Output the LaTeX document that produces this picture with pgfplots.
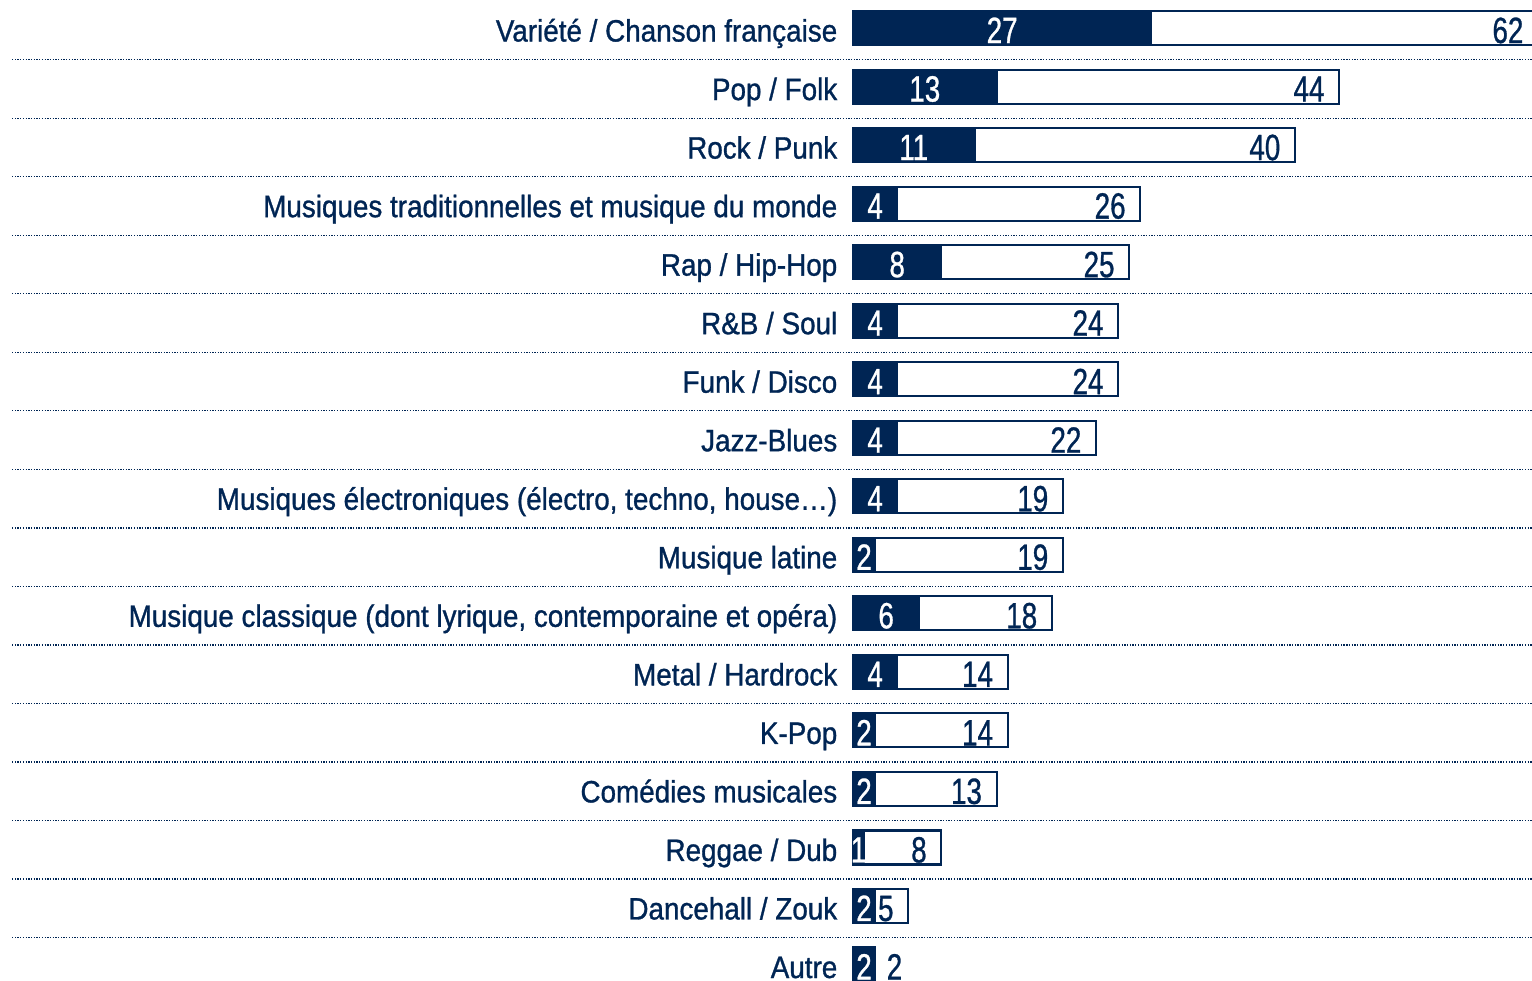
\documentclass[border=0pt]{standalone}
\usepackage{fontspec}
\setmainfont{Liberation Sans}[FakeStretch=0.9, FakeBold=1]
\newfontfamily\numfont{Liberation Sans}[FakeStretch=0.76, FakeBold=0.8]
\usepackage{pgfplots}
\usepackage{pgfplotstable}
\pgfplotsset{compat=1.18}
\definecolor{navy}{RGB}{0,37,84}

\pgfplotstableread{
idx dark total
0 27 62
1 13 44
2 11 40
3 4 26
4 8 25
5 4 24
6 4 24
7 4 22
8 4 19
9 2 19
10 6 18
11 4 14
12 2 14
13 2 13
14 1 8
15 2 5
16 2 2
}\datatable

\begin{document}
\begin{tikzpicture}
\path[use as bounding box] (0,0) rectangle (15.32,9.80);
\begin{axis}[
  at={(8.53cm,0cm)}, anchor=south west,
  x=0.1105cm, y=0.5853cm, y dir=reverse,
  xmin=0, xmax=61.45, ymin=-0.478, ymax=16.265,
  clip=false,
  /pgf/number format/assume math mode=true,
  axis line style={draw=none},
  tick style={draw=none},
  major tick length=0pt,
  xtick=\empty,
  ytick={0,...,16},
  yticklabels={
    {Variété / Chanson française},
    {Pop / Folk},
    {Rock / Punk},
    {Musiques traditionnelles et musique du monde},
    {Rap / Hip-Hop},
    {R\&B / Soul},
    {Funk / Disco},
    {Jazz-Blues},
    {Musiques électroniques (électro, techno, house…)},
    {Musique latine},
    {Musique classique (dont lyrique, contemporaine et opéra)},
    {Metal / Hardrock},
    {K-Pop},
    {Comédies musicales},
    {Reggae / Dub},
    {Dancehall / Zouk},
    {Autre}},
  yticklabel style={anchor=base east, inner sep=0pt, xshift=-0.15cm, yshift=-0.135cm,
    text=navy, font=\fontsize{8.8}{10}\selectfont},
]
\pgfplotsinvokeforeach{0,...,15}{
  \draw[navy, line width=0.37pt, dash pattern=on 0.37pt off 0.4pt]
    (axis cs:-76.1,#1+0.54) -- (axis cs:70,#1+0.54);
}
% totals (outlined bars)
\addplot[xbar, bar width=0.34cm, bar shift=0pt, fill=white, draw=navy, line width=0.6pt]
  table[x=total, y=idx] {\datatable};
% dark bars
\addplot[xbar, bar width=0.34cm, bar shift=0pt, fill=navy, draw=navy, line width=0.6pt,
  point meta=x,
  visualization depends on={\thisrow{dark} \as \dv},
  nodes near coords,
  every node near coord/.style={anchor=base, inner sep=0pt, text=white,
    font=\numfont\fontsize{10.4}{12}\selectfont,
    xshift={-0.5*\dv*0.1105cm}, yshift=-0.15cm}]
  table[x=dark, y=idx] {\datatable};
% totals labels
\addplot[draw=none, mark=none, point meta=x,
  restrict y to domain=-1:15.5,
  nodes near coords,
  every node near coord/.style={anchor=base east, inner sep=0pt, text=navy,
    font=\numfont\fontsize{10.4}{12}\selectfont, xshift=-0.14cm, yshift=-0.15cm}]
  table[x=total, y=idx] {\datatable};
\addplot[draw=none, mark=none, point meta=x,
  nodes near coords,
  every node near coord/.style={anchor=base west, inner sep=0pt, text=navy,
    font=\numfont\fontsize{10.4}{12}\selectfont, xshift=0.11cm, yshift=-0.15cm}]
  coordinates {(2,16)};
\end{axis}
\end{tikzpicture}
\end{document}
